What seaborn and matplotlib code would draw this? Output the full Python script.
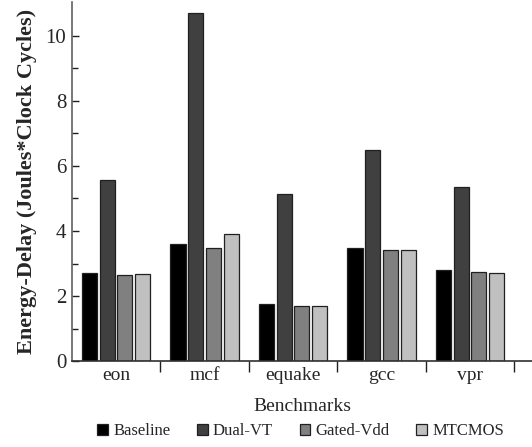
import matplotlib
matplotlib.use("Agg")
import matplotlib.pyplot as plt
import seaborn as sns
import pandas as pd
import numpy as np
from matplotlib.ticker import FixedLocator

benchmarks = ["eon", "mcf", "equake", "gcc", "vpr"]
techniques = ["Baseline", "Dual-VT", "Gated-Vdd", "MTCMOS"]
baseline = [2.70, 3.61, 1.75, 3.47, 2.80]
dual_vt = [5.56, 10.70, 5.13, 6.49, 5.34]
gated_vdd = [2.65, 3.49, 1.71, 3.43, 2.73]
mtcmos = [2.69, 3.92, 1.70, 3.41, 2.72]
colors = ["#000000", "#404040", "#808080", "#c0c0c0"]

rows = []
for tech, vals in zip(techniques, [baseline, dual_vt, gated_vdd, mtcmos]):
    for b, v in zip(benchmarks, vals):
        rows.append({"Benchmark": b, "Technique": tech, "Value": v})
df = pd.DataFrame(rows)

sns.set_style("ticks")
plt.rcParams["font.family"] = ["Liberation Serif", "DejaVu Serif"]
plt.rcParams["ytick.direction"] = "in"

fig = plt.figure(figsize=(5.32, 4.47), dpi=100)
ax = fig.add_axes([0.135, 0.192, 0.865, 0.803])

sns.barplot(data=df, x="Benchmark", y="Value", hue="Technique",
            hue_order=techniques, order=benchmarks, palette=colors,
            width=0.8, edgecolor="#202020", linewidth=0.9, ax=ax,
            errorbar=None, legend=True)

# shrink bars slightly for gaps
for p in ax.patches:
    w = p.get_width()
    if 0 < w < 0.5:
        c = p.get_x() + w / 2
        nw = w * 0.85
        p.set_x(c - nw / 2)
        p.set_width(nw)

ax.set_xlim(-0.5, 4.7)
ax.set_ylim(0, 11.03)

ax.xaxis.set_major_locator(FixedLocator(np.arange(0.5, 5, 1.0)))
ax.xaxis.set_minor_locator(FixedLocator(np.arange(0, 5, 1.0)))
ax.xaxis.set_major_formatter(plt.NullFormatter())
ax.xaxis.set_minor_formatter(plt.FixedFormatter(benchmarks))
ax.tick_params(axis="x", which="major", direction="out", length=8, width=1, color="#202020")
ax.tick_params(axis="x", which="minor", length=0, labelsize=14, pad=4)

ax.set_yticks([0, 2, 4, 6, 8, 10])
ax.yaxis.set_minor_locator(FixedLocator([1, 3, 5, 7, 9]))
ax.tick_params(axis="y", which="major", direction="in", length=5, width=1, labelsize=15, pad=4, color="#202020")
ax.tick_params(axis="y", which="minor", direction="in", length=4, width=1, color="#202020")

for s in ["top", "right"]:
    ax.spines[s].set_visible(False)
ax.spines["left"].set_color("#606060")
ax.spines["left"].set_linewidth(1.2)
ax.spines["bottom"].set_color("#303030")
ax.spines["bottom"].set_linewidth(1.2)

ax.set_ylabel("Energy-Delay (Joules*Clock Cycles)", fontsize=16, fontweight="bold", labelpad=6)
ax.set_xlabel("Benchmarks", fontsize=14, labelpad=10)

handles, labels = ax.get_legend_handles_labels()
ax.legend_.remove()
fig.legend(handles, labels, loc="center", bbox_to_anchor=(0.565, 0.035), ncol=4,
           frameon=False, fontsize=12, handlelength=0.65, handleheight=0.65,
           handletextpad=0.3, columnspacing=1.6, borderaxespad=0)

fig.savefig("out.png", dpi=100)
